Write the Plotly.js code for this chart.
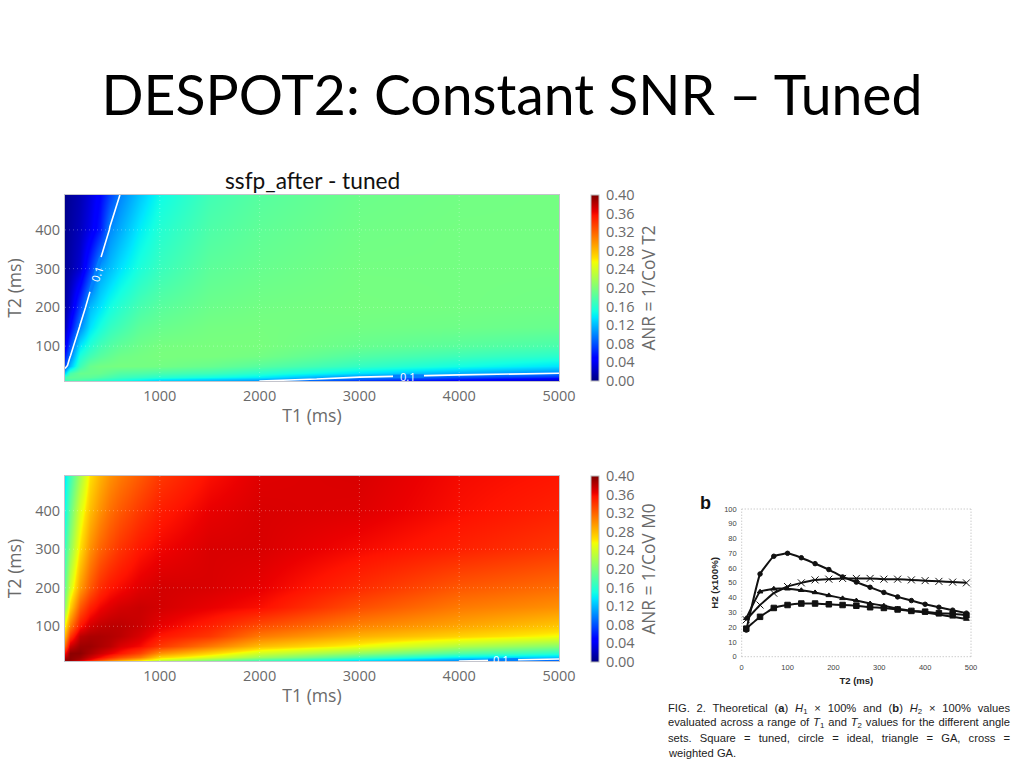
<!DOCTYPE html>
<html>
<head>
<meta charset="utf-8">
<script src="https://cdn.plot.ly/plotly-3.0.1.min.js"></script>
<style>html,body{margin:0;padding:0;background:#fff}#chart{width:1024px;height:768px}</style>
</head>
<body>
<div id="chart"></div>
<script>
// ---- heat-map grid ----
const t1Nodes = [50,100,200,300,400,500,600,800,1000,1500,2000,3000,4000,5000];
const t2Nodes = [10,15,20,30,50,75,100,150,200,300,400,490];

const anrT2 = [
 [.16,.17,.17,.16,.155,.15,.145,.135,.125,.115,.10,.06,.04,.02],
 [.17,.18,.18,.175,.17,.165,.16,.15,.14,.13,.12,.085,.06,.035],
 [.17,.185,.185,.185,.18,.175,.17,.165,.16,.15,.14,.10,.08,.065],
 [.13,.175,.19,.19,.19,.185,.18,.178,.175,.17,.16,.135,.115,.10],
 [.08,.12,.17,.19,.195,.196,.197,.196,.195,.19,.182,.165,.15,.135],
 [.06,.097,.155,.172,.182,.188,.193,.196,.198,.198,.195,.18,.17,.16],
 [.04,.08,.137,.158,.172,.18,.186,.193,.197,.198,.198,.19,.183,.175],
 [.02,.05,.102,.135,.152,.165,.172,.185,.19,.196,.197,.195,.193,.19],
 [.012,.03,.075,.12,.135,.15,.16,.175,.183,.192,.195,.197,.196,.194],
 [.008,.015,.03,.07,.11,.122,.135,.155,.168,.185,.19,.196,.196,.196],
 [.005,.012,.022,.038,.06,.1025,.115,.14,.158,.178,.186,.194,.196,.196],
 [.005,.01,.018,.032,.05,.075,.10,.125,.148,.172,.182,.192,.195,.196]
];

const anrM0 = [
 [.39,.385,.36,.335,.31,.29,.27,.245,.22,.185,.16,.125,.10,.08],
 [.39,.395,.385,.365,.345,.325,.31,.285,.25,.22,.19,.15,.115,.10],
 [.38,.395,.39,.375,.36,.345,.33,.31,.27,.245,.215,.175,.14,.125],
 [.36,.395,.395,.385,.375,.365,.355,.335,.30,.27,.24,.21,.18,.16],
 [.32,.375,.39,.39,.385,.38,.37,.36,.34,.31,.28,.255,.225,.205],
 [.285,.34,.38,.385,.385,.383,.38,.37,.355,.34,.31,.285,.27,.255],
 [.26,.31,.355,.372,.378,.38,.38,.375,.365,.35,.33,.305,.29,.275],
 [.21,.27,.325,.35,.362,.368,.372,.375,.372,.365,.358,.33,.31,.30],
 [.19,.24,.295,.325,.345,.355,.36,.368,.372,.37,.365,.345,.325,.315],
 [.17,.21,.265,.30,.32,.332,.342,.355,.362,.37,.37,.36,.35,.34],
 [.15,.19,.245,.28,.30,.315,.325,.34,.352,.365,.37,.368,.358,.35],
 [.14,.17,.22,.265,.285,.30,.31,.325,.34,.358,.368,.37,.36,.355]
];

const anrTicks = [0,.04,.08,.12,.16,.20,.24,.28,.32,.36,.40];
const t1Ticks = [1000,2000,3000,4000,5000];
const t2Ticks = [100,200,300,400];

// ---- H2 line chart ----
const h2T2 = [10,40,70,100,130,160,190,220,250,280,310,340,370,400,430,460,490];
const h2Tuned = [19,27,33,35,36,36,35.5,35,34.5,33.5,33,32,31,30.5,29.5,29,28];
const h2Ideal = [18,56,68,70,67,63,59,54,50.5,47,43.5,40.5,38,35.5,33.5,31.5,29.5];
const h2GA = [26,44,46,46,45,43.5,41.5,39.5,38,36,34.5,32.5,31,30,28.5,27,25.5];
const h2WeightedGA = [25,35,43,47.5,50,52,52.5,53,53,53,52.5,52.5,52,51.5,51,50.5,50];
const h2Xticks = [0,100,200,300,400,500];
const h2Yticks = [0,10,20,30,40,50,60,70,80,90,100];

// ---- styles ----
const W = 1024, H = 768;
const px = v => v / W, py = v => 1 - v / H;
const jet = [[0,'#00007f'],[.11,'#0000ff'],[.125,'#0000ff'],[.34,'#00e5ff'],[.35,'#00f0f6'],[.375,'#13ffe3'],
 [.64,'#f3ff03'],[.65,'#ffef00'],[.66,'#ffe000'],[.89,'#ff1300'],[.91,'#eb0000'],[1,'#7f0000']];
const isoColor = '#0080ff';   // colour of the scale at the 0.1 contour
const grey = '#6a6a6a';
const chartFont = 'Open Sans, sans-serif', slideFont = 'Lato, sans-serif', paperFont = 'Liberation Sans, Arial, sans-serif';

function heat(z, xa, ya, cbTop, cbTitle) {
  return {type:'heatmap', x:t1Nodes, y:t2Nodes, z:z, xaxis:xa, yaxis:ya, zmin:0, zmax:.4, zsmooth:'best',
    colorscale:jet, hoverinfo:'skip',
    colorbar:{x:px(591), xanchor:'left', xpad:0, ypad:0, y:py(cbTop), yanchor:'top', lenmode:'pixels', len:186,
      thicknessmode:'pixels', thickness:8, tickvals:anrTicks, ticktext:anrTicks.map(v=>v.toFixed(2)),
      ticks:'outside', ticklen:4, tickcolor:'rgba(0,0,0,0)', tickfont:{family:chartFont,size:14.5,color:grey}, outlinecolor:'#bbb', outlinewidth:1,
      title:{text:cbTitle, side:'right', font:{family:chartFont,size:17.3,color:grey}}}};
}
function contour(z, xa, ya) {
  return {type:'contour', x:t1Nodes, y:t2Nodes, z:z, xaxis:xa, yaxis:ya, autocontour:false, showscale:false,
    contours:{coloring:'none', start:.1, end:.1, size:.1, showlabels:false},
    line:{color:'#fff', width:1.6, smoothing:0}, hoverinfo:'skip'};
}
function h2Line(y, symbol, size) {
  return {type:'scatter', mode:'lines+markers', x:h2T2, y:y, xaxis:'x3', yaxis:'y3',
    line:{color:'#111',width:2,shape:'spline',smoothing:.3},
    marker:{symbol:symbol,size:size,color:'#111',line:{color:'#111',width:1}}, hoverinfo:'skip'};
}
function panelX(dom, anchor) {
  return {domain:dom, range:[50,5000], anchor:anchor, tickvals:t1Ticks, ticks:'', ticklabelstandoff:2, showgrid:false, zeroline:false,
    showline:true, mirror:true, linecolor:'#c4c4cc', linewidth:1, tickfont:{family:chartFont,size:14.5,color:grey},
    title:{text:'T1 (ms)', font:{family:chartFont,size:17.6,color:grey}, standoff:5}, automargin:false};
}
function panelY(dom, anchor) {
  return {domain:dom, range:[10,490], anchor:anchor, tickvals:t2Ticks, ticks:'', ticklabelstandoff:1, showgrid:false, zeroline:false,
    showline:true, mirror:true, linecolor:'#c4c4cc', linewidth:1, tickfont:{family:chartFont,size:14.5,color:grey},
    title:{text:'T2 (ms)', font:{family:chartFont,size:17.6,color:grey}, standoff:9}, automargin:false};
}
function gridShapes(xa, ya) {
  const base = {type:'line', layer:'above', line:{color:'rgba(255,255,255,.3)',width:1,dash:'1px,3px'}};
  return t1Ticks.slice(0,-1).map(v=>({...base, xref:xa, yref:ya+' domain', x0:v, x1:v, y0:0, y1:1}))
    .concat(t2Ticks.map(v=>({...base, xref:xa+' domain', yref:ya, x0:0, x1:1, y0:v, y1:v})));
}
function gap(xa, ya, x0, y0, x1, y1) {  // opens the 0.1 contour around its label
  return {type:'line', layer:'above', xref:xa, yref:ya, x0:x0, y0:y0, x1:x1, y1:y1, line:{color:isoColor,width:3.5}};
}
function note(text, x, y, font, extra) {
  return Object.assign({xref:'paper', yref:'paper', x:px(x), y:py(y), text:text, showarrow:false, xanchor:'left', yanchor:'middle', align:'left', font:font}, extra||{});
}
function isoLabel(xa, ya, x, y, angle) {
  return {xref:xa, yref:ya, x:x, y:y, text:'0.1', showarrow:false, textangle:angle, font:{family:chartFont,size:11,color:'#fff'}};
}
function frame(x0,y0,x1,y1,color) {
  return {type:'line', layer:'below', xref:'x3 domain', yref:'y3 domain', x0:x0, x1:x1, y0:y0, y1:y1, line:{color:color,width:1,dash:'1px,2px'}};
}
const captionFont = {family:paperFont, size:11.2, color:'#222'};

const data = [
  heat(anrT2,'x','y',195,'ANR = 1/CoV T2'), contour(anrT2,'x','y'),
  heat(anrM0,'x2','y2',476,'ANR = 1/CoV M0'), contour(anrM0,'x2','y2'),
  h2Line(h2Tuned,'square',5.5), h2Line(h2Ideal,'circle',4.5), h2Line(h2GA,'triangle-up',5), h2Line(h2WeightedGA,'x-thin-open',7)
];

const layout = {
  width:W, height:H, margin:{l:0,r:0,t:0,b:0}, paper_bgcolor:'#fff', plot_bgcolor:'#fff', showlegend:false,
  title:{text:'DESPOT2: Constant SNR – Tuned', font:{family:slideFont,size:55.3,color:'#000'}, x:px(512), xanchor:'center', y:py(96), yanchor:'middle'},
  xaxis:panelX([px(65),px(559)],'y'), yaxis:panelY([py(381),py(195)],'x'),
  xaxis2:panelX([px(65),px(559)],'y2'), yaxis2:panelY([py(661),py(476)],'x2'),
  xaxis3:{domain:[px(741.7),px(971)], range:[0,500], anchor:'y3', tickvals:h2Xticks, ticks:'', ticklabelstandoff:5,
    showgrid:false, zeroline:false, showline:false, tickfont:{family:paperFont,size:7.5,color:'#444'},
    title:{text:'<b>T2 (ms)</b>', font:{family:paperFont,size:9.5,color:'#222'}, standoff:6}, automargin:false},
  yaxis3:{domain:[py(656.7),py(509)], range:[0,100], anchor:'x3', tickvals:h2Yticks, ticks:'', ticklabelstandoff:4,
    showgrid:false, zeroline:false, showline:false, tickfont:{family:paperFont,size:7.5,color:'#444'},
    title:{text:'<b>H2 (x100%)</b>', font:{family:paperFont,size:9.7,color:'#222'}, standoff:3}, automargin:false},
  shapes: gridShapes('x','y').concat(gridShapes('x2','y2')).concat([
    gap('x','y',303,240,374,300), gap('x','y',374,300,410,330),
    gap('x','y',3337,21.7,3647,23.2), gap('x2','y2',4289,11.45,4590,12.95),
    frame(0,1,1,1,'#b5b5b5'), frame(1,0,1,1,'#b5b5b5'), frame(0,0,0,1,'#b5b5b5'), frame(0,0,1,0,'#b5b5b5')
  ]),
  annotations:[
    note('ssfp_after - tuned', 223, 180, {family:slideFont,size:22.7,color:'#111'}),
    note('<b>b</b>', 698, 503, {family:paperFont,size:18,color:'#111'}),
    note('FIG. 2. Theoretical (<b>a</b>) <i>H</i><sub>1</sub> × 100% and (<b>b</b>) <i>H</i><sub>2</sub> × 100% values', 666, 709, captionFont),
    note('evaluated across a range of <i>T</i><sub>1</sub> and <i>T</i><sub>2</sub> values for the different angle', 666, 723, captionFont),
    note('sets. Square = tuned, circle = ideal, triangle = GA, cross =', 666, 738, captionFont),
    note('weighted GA.', 666, 753, captionFont),
    isoLabel('x','y',365,286,-72), isoLabel('x','y',3480,21,0), isoLabel('x2','y2',4410,14,0)
  ]
};
Plotly.newPlot('chart', data, layout, {displayModeBar:false, staticPlot:true}).then(() => {
  // the caption is a justified paragraph: widen the word gaps of its first three lines
  const target = 342;
  document.querySelectorAll('.annotation-text').forEach(t => {
    const s = t.textContent;
    if (/^(FIG\.|evaluated|sets\.)/.test(s)) {
      const n = (s.match(/ /g) || []).length;
      t.style.wordSpacing = ((target - t.getComputedTextLength()) / n) + 'px';
    }
  });
});
</script>
</body>
</html>
